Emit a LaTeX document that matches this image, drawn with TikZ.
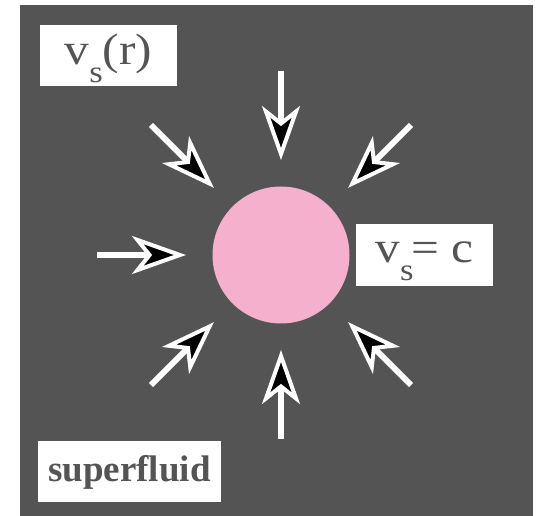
\documentclass[tikz,border=0pt]{standalone}
\usepackage{fontspec}
\setmainfont{Liberation Serif}
\usetikzlibrary{arrows.meta}
\definecolor{slate}{RGB}{84,84,84}
\definecolor{blob}{RGB}{244,176,204}
\tikzset{
  inflow/.style={white,line width=6pt,-{Stealth[length=54pt,width=38pt,inset=15pt,fill=black,line width=4pt]}},
  lbl/.style={fill=white,text=slate,inner sep=0pt,text height=30pt},
  big/.style={font=\fontsize{44}{44}\selectfont}
}
\newcommand{\subs}[1]{\raisebox{-18pt}[0pt][0pt]{\fontsize{31}{31}\selectfont #1}}
\newcommand{\wide}[1]{\scalebox{1.12}[1]{#1}}

\begin{document}
\begin{tikzpicture}[x=1pt,y=-1pt]
\useasboundingbox (0,0) rectangle (539,516);
\fill[slate] (20,5) rectangle (533,516);
\node[circle,fill=blob,minimum size=137pt,inner sep=0pt] (core) at (281,255) {};
% eight inward arrows
\foreach \a in {0,45,...,315}
  \draw[inflow] ([shift={(\a:184)}]core.center) -- ([shift={(\a:95)}]core.center);
\node[lbl,big,text depth=11pt,minimum width=137pt,minimum height=61pt] (vr) at (108.5,55.5) {\wide{v\subs{s}(r)}};
\node[lbl,big,text depth=16pt,minimum width=137pt,minimum height=62pt] (vc) at (424.5,255) {\wide{v\subs{s}\kern-2pt= c}};
\node[lbl,font=\fontsize{37}{37}\selectfont\bfseries,text depth=9.6pt,minimum width=183pt,minimum height=61pt] (sf) at (129.5,471.5) {superfluid};
\end{tikzpicture}
\end{document}
